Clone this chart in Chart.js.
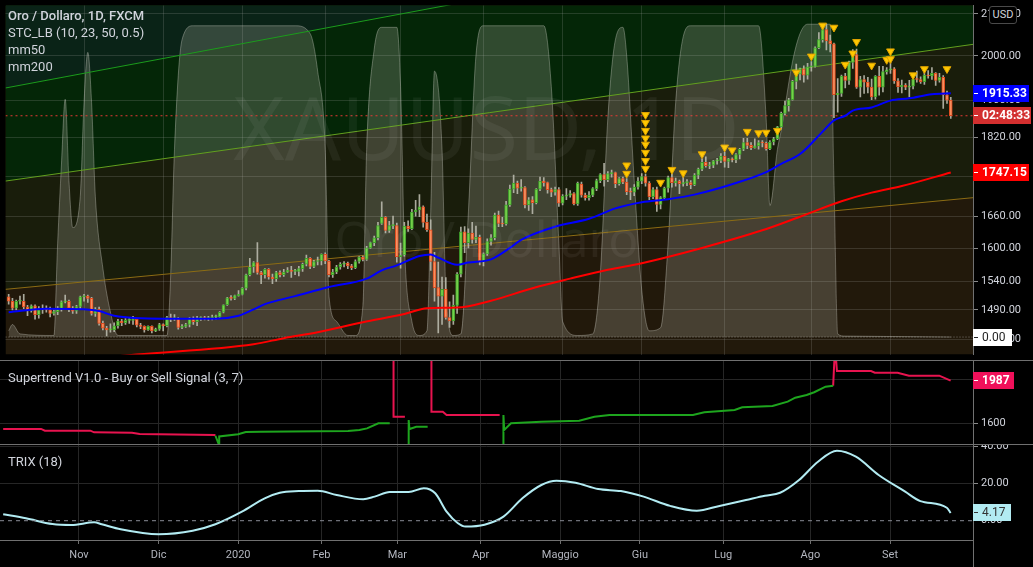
<!DOCTYPE html>
<html>
<head>
<meta charset="utf-8">
<script src="https://cdn.jsdelivr.net/npm/chart.js@4.4.1/dist/chart.umd.min.js"></script>
<style>
  body { margin: 0; background: #000; width: 1033px; height: 567px; overflow: hidden; position: relative; font-family: Roboto, sans-serif; }
  canvas { position: absolute; left: 0; }
  #main { top: 0; }
  #st { top: 361px; }
  #trix { top: 445px; }
  .sep { position: absolute; left: 0; width: 1033px; height: 1px; background: #707070; }
  .vline { position: absolute; left: 973px; width: 1px; background: #707070; }
  .legend { position: absolute; left: 8px; color: #d1d4dc; font-size: 13px; line-height: 17px; white-space: nowrap; }
  .wm { position: absolute; left: 0; width: 973px; text-align: center; color: rgba(255,255,255,0.055); font-family: "Noto Sans", sans-serif; line-height: 1; white-space: nowrap; pointer-events: none; }
  .tag { position: absolute; left: 973px; height: 17px; line-height: 17px; font-size: 12px; padding-left: 9px; box-sizing: border-box; white-space: nowrap; }
  .tag::before { content: ''; position: absolute; left: 1px; top: 8px; width: 4px; height: 1px; background: currentColor; }
  #usd { position: absolute; left: 989px; top: 6px; width: 28px; height: 18px; box-sizing: border-box; border: 1px solid #4a4a4a; border-radius: 3px; background: #000; color: #d1d4dc; font-size: 11px; line-height: 16px; text-align: center; }
</style>
</head>
<body>
<canvas id="main" width="1033" height="360"></canvas>
<canvas id="st" width="1033" height="83"></canvas>
<canvas id="trix" width="1033" height="122"></canvas>
<div class="sep" style="top:360px"></div>
<div class="sep" style="top:444px"></div>
<div class="vline" style="top:540px;height:27px"></div>
<div class="wm" style="top:82px;font-size:88px">XAUUSD, 1D</div>
<div class="wm" style="top:213px;font-size:50px">Oro / Dollaro</div>
<div class="legend" style="top:7px">
  <div style="font-weight:500">Oro / Dollaro, 1D, FXCM</div>
  <div>STC_LB (10, 23, 50, 0.5)</div>
  <div>mm50</div>
  <div>mm200</div>
</div>
<div class="legend" style="top:369px">Supertrend V1.0 - Buy or Sell Signal (3, 7)</div>
<div class="legend" style="top:453px">TRIX (18)</div>
<div id="usd">USD</div>
<script>
// daily candles, 4 Oct 2019 .. 23 Sep 2020 (bar index 0..250)
const opens = [
  1513,1505,1493,1505,1505,1495,1489,1497,1482,1490,1492,1490,1484,1487,1492,1504,1505,1493,1488,1496,
  1513,1514,1510,1484,1491,1467,1459,1456,1456,1463,1471,1468,1472,1472,1474,1464,1462,1456,1462,1454,1457,
  1465,1463,1477,1475,1475,1460,1462,1465,1475,1470,1476,1476,1475,1475,1478,1478,1486,1499,1511,1510,1515,
  1517,1528,1552,1566,1574,1556,1552,1562,1548,1545,1556,1552,1557,1560,1558,1558,1563,1571,1582,1567,1576,1577,
  1589,1577,1552,1557,1566,1571,1573,1568,1565,1576,1584,1580,1601,1611,1620,1647,1659,1634,1643,1643,
  1585,1588,1642,1637,1669,1673,1679,1649,1635,1576,1529,1514,1526,1477,1471,1498,1553,1631,1611,1629,1617,1621,
  1577,1590,1613,1620,1663,1647,1646,1683,1714,1726,1716,1717,1683,1693,1687,1714,1730,1727,1713,1708,1713,
  1686,1700,1702,1705,1685,1724,1702,1697,1702,1715,1731,1743,1733,1745,1747,1725,1735,1728,1709,1708,1718,
  1730,1739,1726,1699,1713,1684,1697,1716,1737,1727,1730,1725,1727,1727,1723,1742,1754,1768,1761,1762,1771,1772,
  1781,1770,1775,1773,1784,1795,1809,1803,1798,1802,1809,1808,1796,1810,1817,1842,1871,1888,1901,1942,1958,1970,1956,
  1975,1976,2019,2038,2062,2035,2028,1912,1915,1954,1944,1985,2003,1929,1946,1940,1929,1907,1953,1929,1964,
  1968,1970,1943,1930,1933,1929,1931,1947,1946,1941,1956,1954,1960,1944,1951,1912,1900
];
const highs = [
  1517,1510,1507,1514,1517,1498,1499,1499,1496,1499,1497,1495,1490,1496,1506,1516,1507,1496,1498,1514,
  1517,1516,1512,1494,1495,1471,1462,1466,1468,1474,1474,1475,1475,1479,1475,1467,1463,1463,1463,1459,1467,
  1466,1479,1483,1482,1477,1465,1467,1477,1478,1479,1478,1479,1479,1481,1481,1487,1499,1512,1515,1516,1524,
  1529,1553,1582,1576,1611,1558,1563,1563,1553,1558,1559,1562,1565,1567,1562,1567,1573,1588,1583,1578,1584,1590,
  1592,1578,1562,1569,1574,1576,1575,1571,1579,1585,1586,1604,1612,1623,1649,1689,1660,1651,1661,1648,
  1610,1649,1652,1674,1692,1703,1681,1665,1654,1593,1575,1548,1547,1504,1516,1556,1640,1641,1637,1649,1642,1625,
  1592,1618,1626,1667,1671,1659,1690,1722,1742,1730,1733,1719,1697,1699,1715,1738,1737,1728,1716,1718,1717,
  1703,1715,1711,1707,1728,1728,1706,1709,1717,1734,1745,1766,1749,1752,1748,1737,1738,1735,1716,1723,1737,
  1745,1744,1729,1717,1718,1699,1718,1740,1744,1736,1732,1738,1733,1731,1745,1756,1775,1779,1768,1772,1776,1786,
  1789,1776,1777,1786,1797,1818,1818,1809,1817,1813,1813,1810,1813,1820,1843,1874,1898,1904,1944,1981,1972,1977,1983,
  1987,2021,2055,2069,2075,2049,2030,1948,1956,1960,1988,2015,2016,1953,1955,1951,1947,1955,1976,1976,1973,
  1992,1973,1948,1945,1937,1944,1953,1965,1952,1962,1966,1973,1962,1960,1955,1920,1906
];
const lows = [
  1500,1490,1490,1500,1492,1480,1486,1474,1476,1484,1486,1478,1481,1482,1488,1502,1487,1484,1484,1491,
  1505,1503,1481,1479,1464,1456,1446,1452,1453,1459,1463,1465,1467,1465,1461,1458,1452,1455,1451,1453,1455,
  1454,1461,1470,1472,1457,1458,1460,1461,1465,1463,1472,1473,1472,1473,1474,1477,1485,1498,1507,1508,1514,
  1516,1525,1550,1556,1553,1536,1546,1544,1536,1540,1548,1549,1556,1547,1552,1550,1558,1568,1563,1565,1570,1570,
  1572,1548,1547,1554,1562,1566,1563,1561,1563,1573,1577,1578,1600,1605,1616,1645,1629,1630,1637,1575,
  1564,1586,1632,1635,1661,1660,1640,1632,1560,1505,1451,1465,1474,1460,1465,1484,1548,1592,1601,1610,1611,1570,
  1568,1587,1606,1616,1641,1641,1644,1680,1707,1705,1710,1677,1672,1666,1685,1711,1720,1706,1699,1702,1680,
  1683,1693,1698,1683,1682,1698,1692,1692,1699,1711,1727,1720,1729,1738,1717,1722,1725,1703,1693,1701,1714,
  1725,1720,1693,1695,1670,1675,1695,1708,1718,1720,1705,1720,1721,1715,1721,1735,1751,1758,1755,1757,1764,1767,
  1758,1757,1769,1767,1775,1792,1796,1794,1797,1795,1800,1793,1794,1804,1815,1837,1868,1876,1900,1925,1945,1940,1947,
  1965,1974,2017,2032,2014,2009,1862,1874,1908,1927,1935,1971,1926,1907,1915,1916,1901,1902,1911,1918,1958,
  1960,1937,1917,1916,1923,1907,1925,1940,1937,1935,1949,1946,1933,1940,1882,1893,1860
];
const closes = [
  1505,1493,1505,1505,1495,1489,1497,1482,1490,1492,1490,1484,1487,1492,1504,1505,1493,1488,1496,1513,
  1514,1510,1484,1491,1467,1459,1456,1456,1463,1471,1468,1472,1472,1474,1464,1462,1456,1462,1454,1457,1465,
  1463,1477,1475,1475,1460,1462,1465,1475,1470,1476,1476,1475,1475,1478,1478,1486,1499,1511,1510,1515,1517,
  1528,1552,1566,1574,1556,1552,1562,1548,1545,1556,1552,1557,1560,1558,1558,1563,1571,1582,1567,1576,1577,1589,
  1577,1552,1557,1566,1571,1573,1568,1565,1576,1584,1580,1601,1611,1620,1643,1659,1634,1643,1643,1585,
  1588,1642,1637,1669,1673,1679,1649,1635,1576,1529,1514,1526,1477,1471,1498,1553,1631,1611,1629,1617,1621,1577,
  1590,1613,1620,1663,1647,1646,1683,1714,1726,1716,1717,1683,1693,1687,1714,1730,1727,1713,1708,1713,1686,
  1700,1702,1705,1685,1726,1702,1697,1702,1715,1731,1743,1733,1745,1747,1725,1735,1728,1709,1708,1718,1730,
  1739,1726,1699,1713,1684,1697,1716,1737,1727,1730,1725,1727,1727,1723,1742,1754,1768,1761,1762,1771,1772,1781,
  1770,1775,1773,1784,1795,1809,1803,1798,1802,1809,1808,1796,1810,1817,1842,1871,1888,1901,1942,1958,1970,1956,1975,
  1976,2019,2038,2062,2035,2028,1912,1915,1954,1944,1985,2003,1929,1946,1940,1929,1907,1953,1929,1964,1968,
  1970,1943,1930,1933,1929,1931,1947,1946,1941,1956,1954,1960,1944,1951,1912,1900,1866
];

const monthTickIdx = [20, 41, 62, 84, 104, 126, 147, 168, 190, 213, 234];
const monthTickLabels = ['Nov', 'Dic', '2020', 'Feb', 'Mar', 'Apr', 'Maggio', 'Giu', 'Lug', 'Ago', 'Set'];
const priceTicks = [1440, 1490, 1540, 1600, 1660, 1740, 1820, 1900, 2000, 2100];
const stTicks = [1600, 2000];
const trixTicks = [0, 20, 40];

// mm50 / mm200
const ma50Idx = [0,10,20,24,28,41,55,61,65,68,76,85,95,99,103,109,112,114,119,122,128,133,136,145,154,161,168,175,182,193,201,205,210,216,219,222,224,229,234,239,245,250];
const ma50Val = [1486,1492,1491,1488,1480,1475,1475,1480,1491,1500,1514,1530,1545,1560,1569,1586,1589,1583,1570,1574,1580,1601,1616,1641,1656,1676,1688,1694,1703,1726,1748,1765,1785,1832,1856,1866,1877,1884,1899,1904,1913,1915.33];
const ma200Idx = [0,34,65,73,82,94,105,111,119,128,139,149,159,168,184,200,210,221,229,237,250];
const ma200Val = [1396,1415,1432,1442,1452,1469,1483,1493,1494,1506,1528,1545,1561,1573,1601,1634,1660,1690,1707,1720,1747.15];

// STC_LB oscillator (0..100)
const stcIdx = [0,1,3,12,13,14,15,16,17,19,20,21,22,23,25,27,29,42,43,44,46,49,76,80,82,84,85,87,90,92,94,95,97,99,103,104,105,107,109,111,112,113,115,116,118,120,122,124,126,142,144,146,147,151,155,157,159,161,163,164,166,168,170,173,175,177,179,181,199,201,202,204,205,208,210,212,218,219,220,222,250];
const stcVal = [2,4,1,0.5,30,55,76,50,35,45,75,91,75,45,22,8,0.5,0.5,20,60,95,99.5,99.5,97,85,60,13,5,0.5,0.5,10,60,92,99,99,80,30,5,0.5,2,40,85,60,15,0.5,1,40,90,99.5,99.5,80,30,5,0.5,1,20,70,95,99,90,50,15,2,3,30,75,96,99.5,99.5,70,42,60,66,88,97,100,100,50,1,0.3,0];

// yellow signal triangles
const sigIdx = [164,164,169,169,169,169,169,169,169,169,173,176,179,184,190,192,196,199,201,204,209,213,216,219,222,224,225,229,233,234,234,240,243,249];
const sigPrice = [1762,1745,1868,1851,1834,1818,1805,1788,1771,1755,1727,1753,1746,1785,1799,1793,1832,1829,1830,1834,1962,1999,2072,2067,1980,2006,2033,1978,1991,1993,2011,1956,1970,1970];

// channel lines (price at left and right edge of the pane)
const chanIdx = [-0.84, 255.9];
const chanA = [1927, 2377];
const chanB = [1730, 2027];
const chanC = [1526, 1697];

// Supertrend (3, 7)
const stRedIdx = [0,10,11,23,24,34,36,56,60,103,103,106,107,113,113,116,117,131,132,219,219.5,220,229,230,236,239,247,250];
const stRedVal = [1549,1549,1533,1533,1518,1515,1503,1494,null,2300,1660,1660,null,2300,1705,1705,1675,1675,null,1942,2300,2075,2075,2060,2060,2033,2033,1987];
const stGreenIdx = [56,57,57,62,64,68,91,94,96,99,102,103,107,107,107.2,109,112,113,132,132,132.2,134,142,152,156,160,182,185,193,195,203,207,209,212,214,217,219];
const stGreenVal = [1487,1400,1480,1500,1521,1524,1530,1539,1554,1600,1600,null,1400,1630,1548,1569,1569,null,1400,1675,1539,1600,1615,1624,1660,1675,1675,1700,1721,1745,1757,1797,1833,1857,1882,1933,1942];

// TRIX (18)
const trixIdx = [0,6,13,18,24,26,31,41,50,56,63,69,73,78,83,88,95,98,102,107,111,114,117,120,122,127,132,137,142,146,151,157,163,169,176,183,189,196,201,205,210,215,220,225,231,238,242,249,250];
const trixVal = [3.5,1.3,-1.8,-2.3,-0.9,-1.9,-4.6,-7.3,-5.4,-1.9,4.9,12.1,15.1,16.0,16.2,13.9,11.6,13.0,15.5,15.5,17.5,14.8,4.9,-1.4,-3.2,-2.2,2.2,12.1,19.3,21.6,20.5,17.1,16.0,13.0,8.0,5.4,8.0,11.2,13.5,15.1,22.0,31.9,37.8,34.6,24.7,15.7,10.6,7.0,4.17];

const countdown = '02:48:33';

const xMin = -0.84, xMax = 255.9;
const pts = (xs, ys) => xs.map((x, i) => ({ x: x, y: ys[i] }));
const last = a => a[a.length - 1];

Chart.defaults.font.family = 'Roboto';

const upBody = '#76d24a', upEdge = '#3f9f2c';
const dnBody = '#f68f5e', dnEdge = '#de4a1e';

function xAxis(showLabels, gridColor) {
  return {
    type: 'linear', min: xMin, max: xMax, offset: false,
    grid: { offset: false, color: gridColor, drawTicks: showLabels, tickLength: 4, tickColor: '#707070' },
    border: { display: showLabels, color: '#707070' },
    ticks: {
      display: showLabels, autoSkip: false, maxRotation: 0, color: '#b2b5be', padding: 5,
      font: { size: 11 },
      callback: v => monthTickLabels[monthTickIdx.indexOf(v)]
    },
    afterBuildTicks: s => { s.ticks = monthTickIdx.map(v => ({ value: v })); },
    afterFit: s => { s.height = showLabels ? 27 : 0; s.paddingLeft = 0; s.paddingRight = 0; }
  };
}

function yAxis(extra, tickVals, fmt, gridColor) {
  return Object.assign({
    position: 'right',
    grid: { color: gridColor, tickLength: 5, tickColor: '#8a8a8a' },
    border: { color: '#707070' },
    ticks: { color: '#d1d4dc', padding: 3, autoSkip: false, font: { size: 11 }, callback: v => fmt(v) },
    afterBuildTicks: s => { s.ticks = tickVals.map(v => ({ value: v })); },
    afterFit: s => { s.width = 60; s.paddingTop = 0; s.paddingBottom = 0; }
  }, extra);
}

const channelFill = {
  id: 'channelFill',
  beforeDraw(chart) {
    const { ctx, chartArea: a, scales } = chart;
    const x0 = scales.x.getPixelForValue(chanIdx[0]);
    const x1 = scales.x.getPixelForValue(chanIdx[1]);
    const band = (vals, color) => {
      ctx.beginPath();
      ctx.moveTo(x0, scales.y.getPixelForValue(vals[0]));
      ctx.lineTo(x1, scales.y.getPixelForValue(vals[1]));
      ctx.lineTo(x1, a.top - 500);
      ctx.lineTo(x0, a.top - 500);
      ctx.closePath();
      ctx.fillStyle = color;
      ctx.fill();
    };
    ctx.save();
    ctx.beginPath();
    ctx.rect(a.left, a.top, a.width, a.height);
    ctx.clip();
    ctx.fillStyle = '#22190b';
    ctx.fillRect(a.left, a.top, a.width, a.height);
    band(chanC, '#191d0b');
    band(chanB, '#042607');
    band(chanA, '#0a2317');
    ctx.restore();
  }
};

const candleIdx = closes.map((c, i) => i);
const isUp = i => closes[i] >= opens[i];

const main = new Chart(document.getElementById('main'), {
  type: 'bar',
  data: {
    datasets: [
      {
        type: 'line', yAxisID: 'ys', data: pts(stcIdx, stcVal), fill: 'origin',
        backgroundColor: 'rgba(205,205,192,0.22)', borderColor: 'rgba(215,215,205,0.35)', borderWidth: 1,
        pointRadius: 0, cubicInterpolationMode: 'monotone', order: 20
      },
      { type: 'line', data: pts(chanIdx, chanA), borderColor: '#1c9c1c', borderWidth: 1, pointRadius: 0, order: 15 },
      { type: 'line', data: pts(chanIdx, chanB), borderColor: '#62a01e', borderWidth: 1, pointRadius: 0, order: 15 },
      { type: 'line', data: pts(chanIdx, chanC), borderColor: '#8c6c14', borderWidth: 1, pointRadius: 0, order: 15 },
      {
        type: 'line', yAxisID: 'ys', data: pts(chanIdx, [0, 0]), borderColor: 'rgba(200,200,200,0.55)',
        borderWidth: 1, borderDash: [1, 2], pointRadius: 0, order: 14
      },
      {
        type: 'line', data: pts(chanIdx, [last(closes), last(closes)]), borderColor: '#e53935',
        borderWidth: 1, borderDash: [2, 3], pointRadius: 0, order: 14
      },
      {
        type: 'bar', data: candleIdx.map(i => ({ x: i, y: [lows[i], highs[i]] })),
        backgroundColor: 'rgba(185,185,172,0.9)', barThickness: 1, grouped: false, order: 6
      },
      {
        type: 'bar', data: candleIdx.map(i => ({ x: i, y: [opens[i], closes[i]] })),
        backgroundColor: candleIdx.map(i => isUp(i) ? upBody : dnBody),
        borderColor: candleIdx.map(i => isUp(i) ? upEdge : dnEdge),
        borderWidth: 1, borderSkipped: false, barThickness: 3, minBarLength: 1, grouped: false, order: 5
      },
      {
        type: 'line', data: pts(ma200Idx, ma200Val), borderColor: '#ff0000', borderWidth: 2,
        pointRadius: 0, cubicInterpolationMode: 'monotone', order: 3
      },
      {
        type: 'line', data: pts(ma50Idx, ma50Val), borderColor: '#0000ff', borderWidth: 2,
        pointRadius: 0, cubicInterpolationMode: 'monotone', order: 2
      },
      {
        type: 'line', data: pts(sigIdx, sigPrice), showLine: false, pointStyle: 'triangle', rotation: 180,
        pointRadius: 4.5, pointBackgroundColor: '#ffc800', pointBorderColor: '#e0a400', pointBorderWidth: 1, order: 1
      }
    ]
  },
  options: {
    responsive: false, animation: false, devicePixelRatio: 1,
    layout: { padding: 0 },
    plugins: { legend: { display: false }, tooltip: { enabled: false } },
    scales: {
      x: xAxis(false, 'rgba(170,170,170,0.2)'),
      y: yAxis({ type: 'logarithmic', min: 1415, max: 2120.3 }, priceTicks, v => Number(v).toFixed(2), 'rgba(170,170,170,0.2)'),
      ys: { type: 'linear', display: false, min: -5.58, max: 105.98 }
    }
  },
  plugins: [channelFill]
});

const st = new Chart(document.getElementById('st'), {
  type: 'line',
  data: {
    datasets: [
      { data: pts(stGreenIdx, stGreenVal), borderColor: '#1ea51e', borderWidth: 2, pointRadius: 0, spanGaps: false },
      { data: pts(stRedIdx, stRedVal), borderColor: '#e8134f', borderWidth: 2, pointRadius: 0, spanGaps: false }
    ]
  },
  options: {
    responsive: false, animation: false, devicePixelRatio: 1,
    layout: { padding: 0 },
    plugins: { legend: { display: false }, tooltip: { enabled: false } },
    scales: {
      x: xAxis(false, '#262626'),
      y: yAxis({ type: 'linear', min: 1412, max: 2166 }, stTicks, v => String(Math.round(v)), '#262626')
    }
  }
});

const trix = new Chart(document.getElementById('trix'), {
  type: 'line',
  data: {
    datasets: [
      {
        data: pts(chanIdx, [0, 0]), borderColor: '#8a8d96', borderWidth: 1, borderDash: [4, 4], pointRadius: 0
      },
      {
        data: pts(trixIdx, trixVal), borderColor: '#b2ebf2', borderWidth: 2, pointRadius: 0,
        cubicInterpolationMode: 'monotone'
      }
    ]
  },
  options: {
    responsive: false, animation: false, devicePixelRatio: 1,
    layout: { padding: 0 },
    plugins: { legend: { display: false }, tooltip: { enabled: false } },
    scales: {
      x: xAxis(true, '#262626'),
      y: yAxis({ type: 'linear', min: -10.43, max: 40.92 }, trixTicks, v => Number(v).toFixed(2),
        ctx => (ctx.tick && ctx.tick.value === 0) ? 'rgba(0,0,0,0)' : '#262626')
    }
  }
});

function tag(text, y, bg, fg, w, bold) {
  const d = document.createElement('div');
  d.className = 'tag';
  d.textContent = text;
  d.style.top = (y - 8.5) + 'px';
  d.style.background = bg;
  d.style.color = fg;
  d.style.width = w + 'px';
  d.style.fontWeight = bold ? '700' : '400';
  document.body.appendChild(d);
}

const mY = main.scales.y;
tag(last(ma50Val).toFixed(2), mY.getPixelForValue(last(ma50Val)), '#0000ff', '#ffffff', 56, true);
tag(countdown, mY.getPixelForValue(last(closes)), '#d32f2f', '#ffffff', 58, true);
tag(last(ma200Val).toFixed(2), mY.getPixelForValue(last(ma200Val)), '#ff0000', '#ffffff', 56, true);
tag(last(stcVal).toFixed(2), main.scales.ys.getPixelForValue(last(stcVal)), '#ffffff', '#222222', 39, false);
tag(String(last(stRedVal)), 361 + st.scales.y.getPixelForValue(last(stRedVal)), '#f0105a', '#ffffff', 41, true);
tag(last(trixVal).toFixed(2), 445 + trix.scales.y.getPixelForValue(last(trixVal)), '#b2ebf2', '#333333', 38, false);
</script>
</body>
</html>
